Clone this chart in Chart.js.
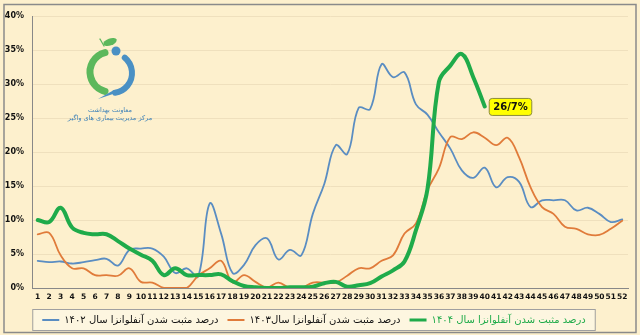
<!DOCTYPE html>
<html>
<head>
<meta charset="utf-8">
<script src="https://cdn.jsdelivr.net/npm/chart.js@4"></script>
<style>
  html, body { margin: 0; padding: 0; background: #fdf0cd; }
  #wrap { width: 640px; height: 335px; }
</style>
</head>
<body>
<div id="wrap"><canvas id="myChart" width="640" height="335"></canvas></div>
<script>
// week numbers on the x axis
const weeks = ['1','2','3','4','5','6','7','8','9','10','11','12','13','14','15','16','17','18','19','20',
  '21','22','23','24','25','26','27','28','29','30','31','32','33','34','35','36','37','38','39','40',
  '41','42','43','44','45','46','47','48','49','50','51','52'];

// percent positive, by year
const flu1404 = [10, 9.7, 11.8, 8.9, 8.1, 7.9, 7.9, 6.9, 5.8, 4.9, 4.0, 1.9, 2.9, 1.9, 1.9, 1.9, 2.0, 1.0, 0.3, 0.1,
  0, 0, 0.1, 0.1, 0.2, 0.7, 0.9, 0.2, 0.4, 0.7, 1.7, 2.6, 3.9, 8.5, 14.5, 30.3, 32.7, 34.4, 31.0, 26.7];
const flu1403 = [7.9, 8.1, 4.8, 2.9, 2.9, 1.9, 1.9, 1.8, 2.9, 0.9, 0.8, 0, 0, 0, 1.8, 2.9, 4.0, 0.8, 1.9, 0.9,
  0.1, 0.8, 0, 0, 0.8, 0.8, 0.8, 1.8, 2.9, 2.9, 4.0, 4.8, 8.0, 9.5, 14.4, 17.6, 22.2, 21.9, 22.9, 22.1,
  21.0, 22.1, 19.2, 14.8, 11.9, 10.9, 9.0, 8.7, 7.9, 7.8, 8.7, 9.9];
const flu1402 = [4.0, 3.8, 3.9, 3.6, 3.8, 4.1, 4.3, 3.3, 5.6, 5.8, 5.8, 4.6, 2.2, 2.9, 1.7, 12.4, 8.0, 2.2, 3.4, 6.3,
  7.3, 4.2, 5.6, 4.8, 10.9, 15.3, 21.0, 19.7, 26.5, 26.3, 32.9, 31.0, 31.7, 27.0, 25.5, 22.9, 20.5, 17.3, 16.2, 17.7,
  14.8, 16.3, 15.6, 11.9, 12.9, 12.9, 12.9, 11.4, 11.8, 10.9, 9.7, 10.1];

const seriesNames = [
  'درصد مثبت شدن آنفلوانزا سال ۱۴۰۴',
  'درصد مثبت شدن آنفلوانزا سال۱۴۰۳',
  'درصد مثبت شدن آنفلوانزا سال ۱۴۰۲'
];
const lastLabel = '26/7%';

const bg = '#fdf0cd';
const persian = '"DejaVu Sans", sans-serif';

// background, outer frame and legend box
const framePlugin = {
  id: 'frame',
  beforeDraw(chart) {
    const c = chart.ctx;
    c.save();
    c.fillStyle = bg;
    c.fillRect(0, 0, chart.width, chart.height);
    c.strokeStyle = '#8a8a8a';
    c.lineWidth = 1.5;
    c.strokeRect(4, 4.5, chart.width - 8, chart.height - 7);

    const boxes = chart.legend.legendHitBoxes;
    if (boxes && boxes.length) {
      let l = Infinity, r = -Infinity, t = Infinity, b = -Infinity;
      boxes.forEach(h => {
        l = Math.min(l, h.left); r = Math.max(r, h.left + h.width);
        t = Math.min(t, h.top); b = Math.max(b, h.top + h.height);
      });
      c.fillStyle = '#fdf6e0';
      c.strokeStyle = '#a0a0a0';
      c.lineWidth = 1;
      c.fillRect(l - 9, t - 5, r - l + 18, b - t + 10);
      c.strokeRect(l - 9.5, t - 5.5, r - l + 19, b - t + 11);
    }
    c.restore();
  }
};

// small logo in the top-left corner
const logoPlugin = {
  id: 'logo',
  beforeDatasetsDraw(chart) {
    const c = chart.ctx;
    const cx = 110, cy = 72, r = 20;
    c.save();
    c.lineCap = 'round';
    // green ring part
    c.strokeStyle = '#5cb85c';
    c.lineWidth = 7;
    c.beginPath();
    c.arc(cx, cy, r, Math.PI * 1.42, Math.PI * 0.58, true);
    c.stroke();
    // leaf
    c.fillStyle = '#5cb85c';
    c.beginPath();
    c.ellipse(110, 42, 7, 3.5, -0.35, 0, Math.PI * 2);
    c.fill();
    c.strokeStyle = '#5cb85c';
    c.lineWidth = 1.2;
    c.beginPath();
    c.moveTo(104, 46); c.lineTo(100, 39);
    c.stroke();
    // blue part
    c.strokeStyle = '#4a90c4';
    c.lineWidth = 6;
    c.beginPath();
    c.arc(cx + 2, cy + 1, r, Math.PI * 1.72, Math.PI * 0.45, false);
    c.stroke();
    c.fillStyle = '#4a90c4';
    c.beginPath();
    c.moveTo(cx + 4, cy + 18);
    c.lineTo(cx - 12, cy + 27);
    c.lineTo(cx + 12, cy + 19);
    c.closePath();
    c.fill();
    c.beginPath();
    c.arc(cx + 6, cy - 21, 4.5, 0, Math.PI * 2);
    c.fill();
    // text
    c.fillStyle = '#3f82b8';
    c.textAlign = 'center';
    c.font = '6.5px ' + persian;
    c.fillText('معاونت بهداشت', cx, 110);
    c.fillText('مرکز مدیریت بیماری های واگیر', cx, 118);
    c.restore();
  }
};

// value box at the last green point
const lastValuePlugin = {
  id: 'lastValue',
  afterDatasetsDraw(chart) {
    const meta = chart.getDatasetMeta(0);
    const pt = meta.data[flu1404.length - 1];
    if (!pt) return;
    const c = chart.ctx;
    c.save();
    c.font = 'bold 10px "DejaVu Sans", sans-serif';
    const w = c.measureText(lastLabel).width + 8;
    const h = 17;
    const x = pt.x + 4, y = pt.y - h / 2;
    c.fillStyle = '#ffff00';
    c.strokeStyle = '#8c8c3c';
    c.lineWidth = 1;
    c.beginPath();
    c.roundRect(x + 0.5, y + 0.5, w, h, 3);
    c.fill();
    c.stroke();
    c.fillStyle = '#111';
    c.textBaseline = 'middle';
    c.fillText(lastLabel, x + 4.5, y + h / 2 + 1);
    c.restore();
  }
};

const data = {
  labels: weeks,
  datasets: [
    {
      label: seriesNames[0],
      data: flu1404,
      borderColor: '#1fab4a',
      borderWidth: 4,
      legendColor: '#1fab4a',
    },
    {
      label: seriesNames[1],
      data: flu1403,
      borderColor: '#e07b3a',
      borderWidth: 1.8,
      legendColor: '#111',
    },
    {
      label: seriesNames[2],
      data: flu1402,
      borderColor: '#5a8dc2',
      borderWidth: 1.8,
      legendColor: '#111',
    },
  ],
};

const options = {
  responsive: false,
  animation: false,
  layout: { padding: { left: 0, right: 12, top: 16, bottom: 2 } },
  elements: {
    point: { radius: 0 },
    line: { tension: 0.4, fill: false, borderCapStyle: 'round' },
  },
  plugins: {
    tooltip: { enabled: false },
    legend: {
      position: 'bottom',
      reverse: true,
      maxHeight: 27,
      labels: {
        usePointStyle: true,
        pointStyleWidth: 17,
        boxHeight: 6,
        padding: 9,
        font: { family: persian, size: 10 },
        generateLabels(chart) {
          return chart.data.datasets.map((ds, i) => ({
            text: ds.label,
            strokeStyle: ds.borderColor,
            fillStyle: ds.borderColor,
            lineWidth: i === 0 ? 3 : 2,
            pointStyle: 'line',
            fontColor: ds.legendColor,
            hidden: false,
            datasetIndex: i,
          }));
        },
      },
    },
  },
  scales: {
    x: {
      offset: true,
      grid: { display: false, drawTicks: false },
      border: { color: '#888', width: 1 },
      ticks: {
        autoSkip: false,
        maxRotation: 0,
        padding: 5,
        color: '#111',
        font: { family: '"DejaVu Sans", sans-serif', size: 7.5, weight: 'bold' },
      },
      afterFit(scale) { scale.height = 18; },
    },
    y: {
      min: 0,
      max: 40,
      ticks: {
        stepSize: 5,
        padding: 8,
        color: '#111',
        font: { family: '"DejaVu Sans", sans-serif', size: 8, weight: 'bold' },
        callback: (v) => v + '%',
      },
      grid: { color: '#efe0bd', drawTicks: false },
      border: { color: '#888', width: 1 },
      afterFit(scale) { scale.width = 32; },
    },
  },
};

let ctx = document.getElementById('myChart').getContext('2d');
var myChart = new Chart(ctx, {
  type: 'line',
  data: data,
  options: options,
  plugins: [framePlugin, logoPlugin, lastValuePlugin],
});
</script>
</body>
</html>
